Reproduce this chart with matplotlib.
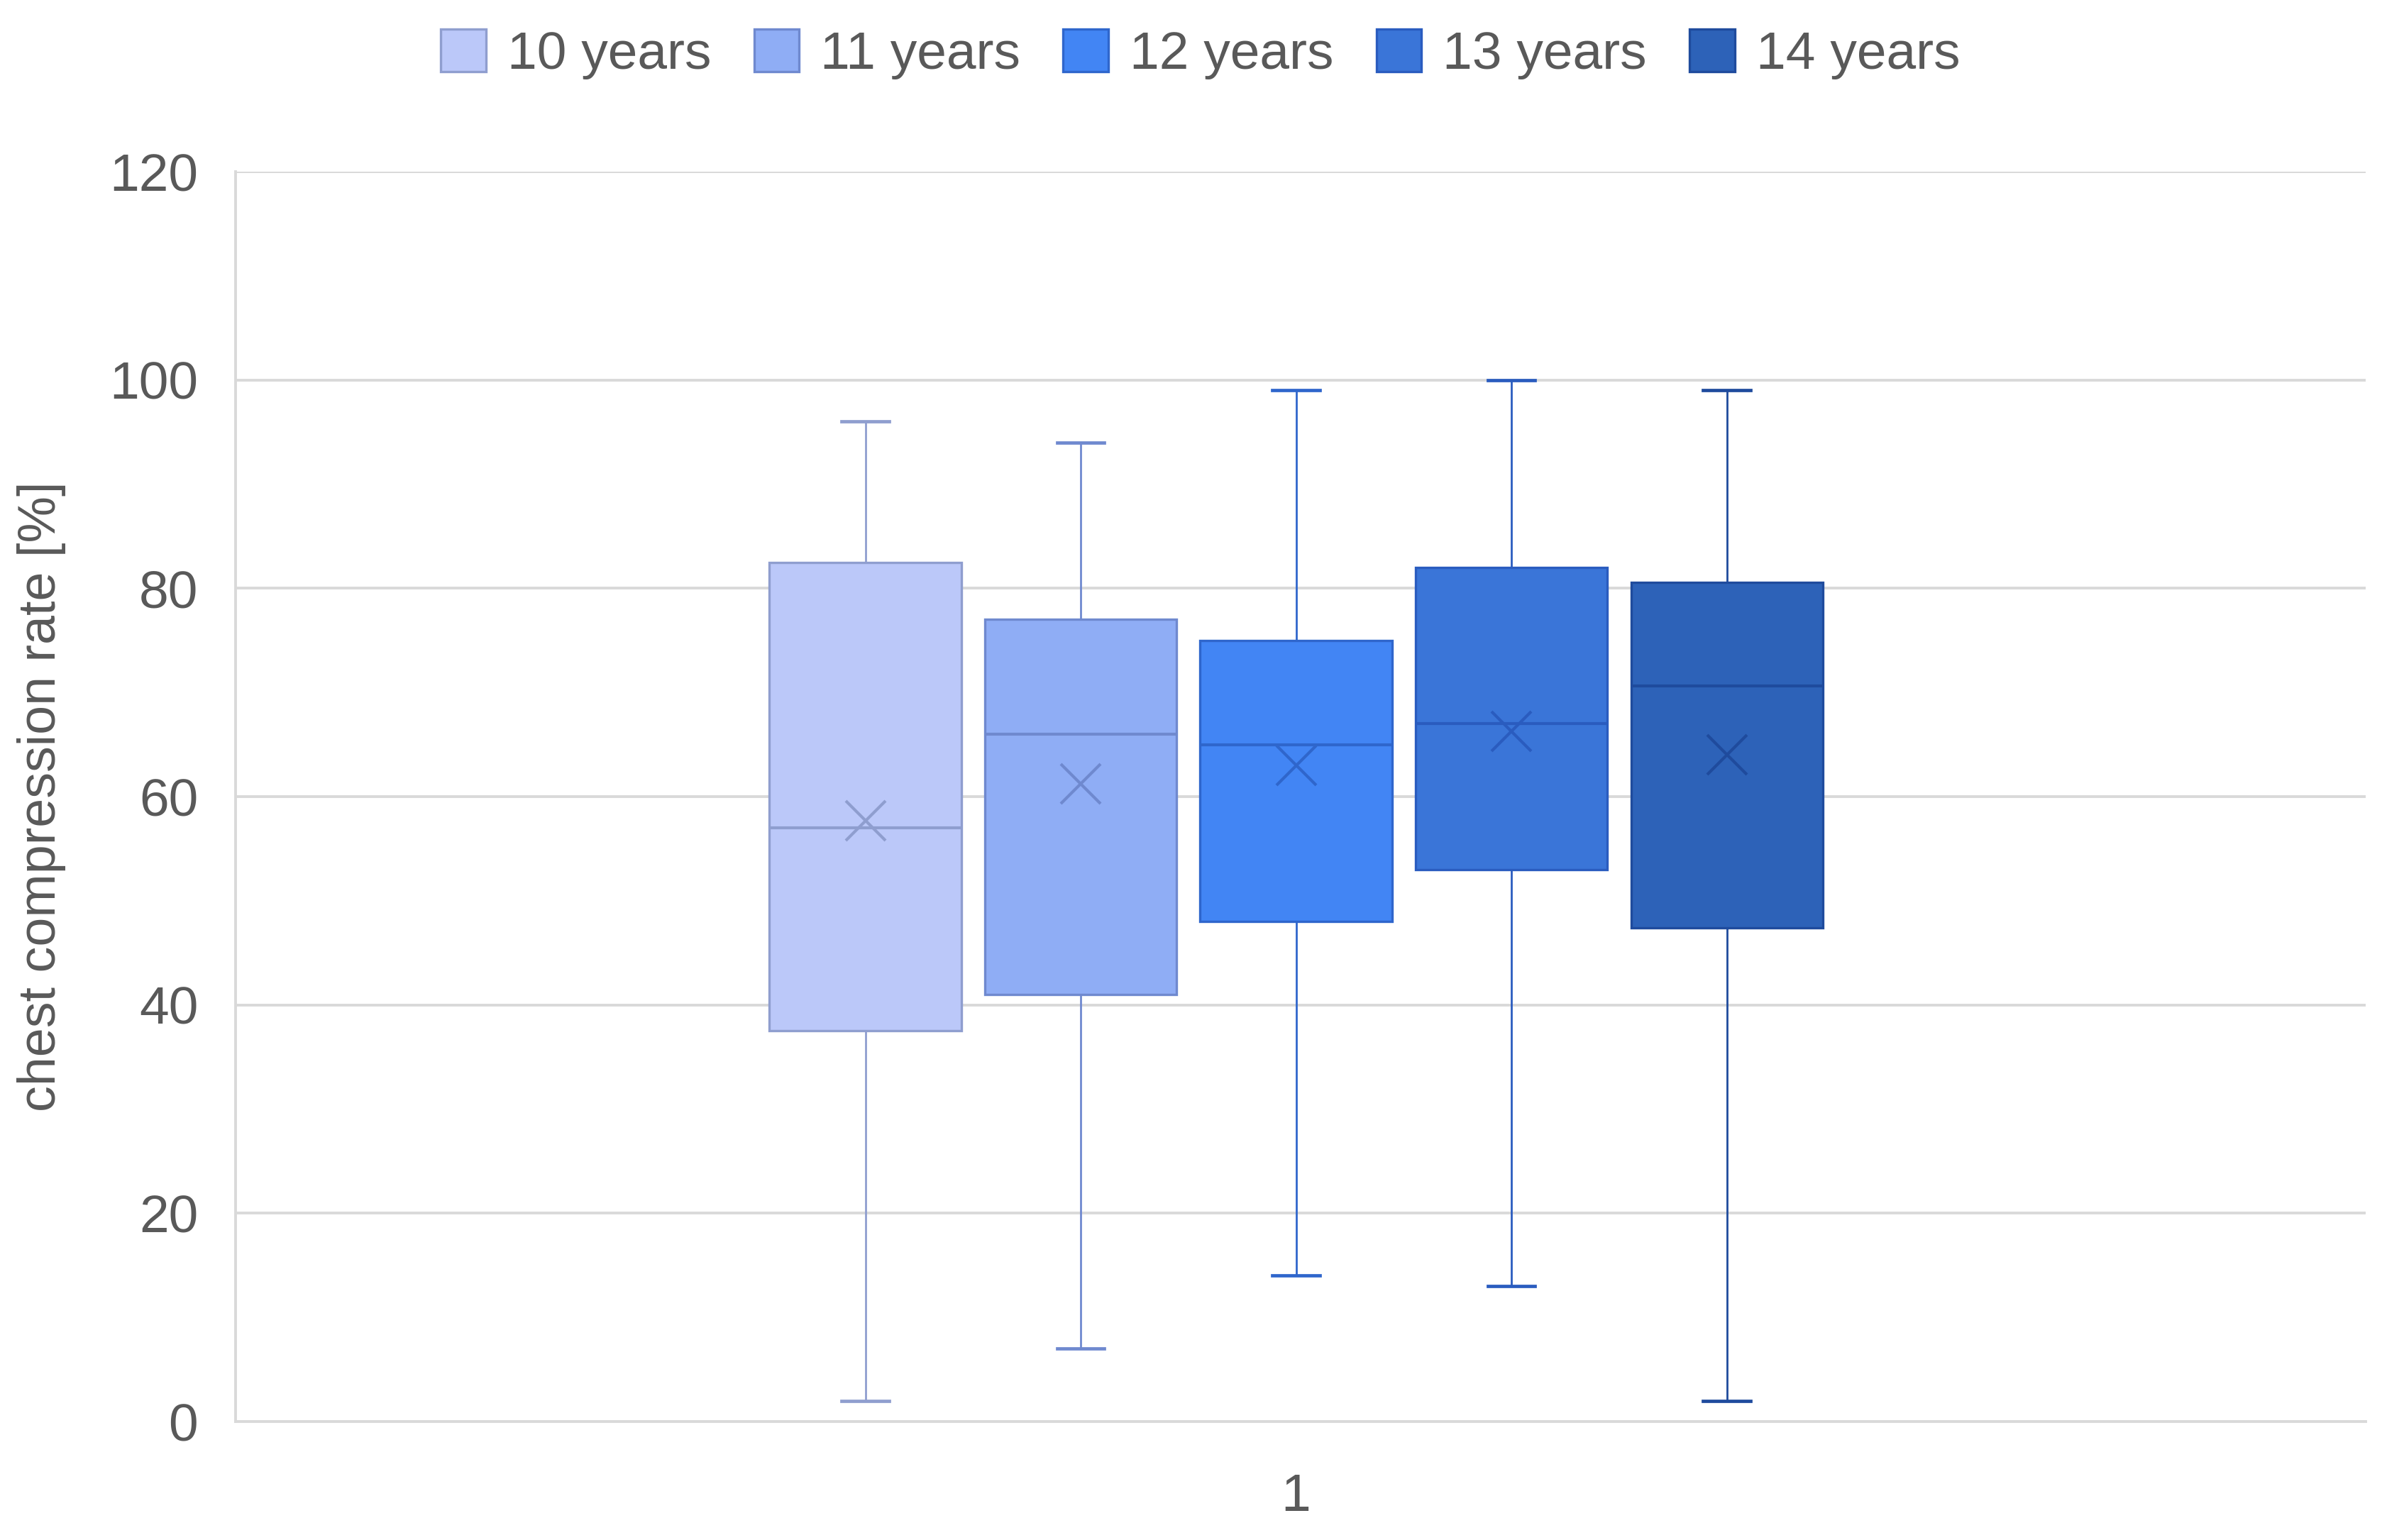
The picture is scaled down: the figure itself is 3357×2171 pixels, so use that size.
import matplotlib.pyplot as plt
from matplotlib.patches import Patch

plt.rcParams['font.family'] = ['Liberation Sans', 'DejaVu Sans']

groups = ['10 years', '11 years', '12 years', '13 years', '14 years']
whislo = [2, 7, 14, 13, 2]
q1 = [37.5, 41, 48, 53, 47.4]
med = [57, 66, 65, 67, 70.6]
mean = [57.7, 61.2, 63, 66.3, 64]
q3 = [82.5, 77, 75, 82, 80.6]
whishi = [96, 94, 99, 100, 99]

fills = ['#bbc8f9', '#8fadf5', '#4285f4', '#3a75d8', '#2d62b8']
edges = ['#8f9ecf', '#6f89cf', '#2f66cc', '#2a5cbf', '#1f4b9d']
text_col = '#595959'
grid_col = '#d9d9d9'

stats = []
for i in range(len(groups)):
    stats.append(dict(label=groups[i], whislo=whislo[i], q1=q1[i], med=med[i],
                      mean=mean[i], q3=q3[i], whishi=whishi[i], fliers=[]))

fig = plt.figure(figsize=(3357/200, 2171/200), dpi=200)
ax = fig.add_axes([0.0989, 0.0769, 0.8942, 0.8116])

pos = [-2, -1, 0, 1, 2]
bp = ax.bxp(stats, positions=pos, widths=0.89, patch_artist=True, showmeans=True,
            capwidths=0.22, manage_ticks=False)

for i in range(len(groups)):
    bp['boxes'][i].set(facecolor=fills[i], edgecolor=edges[i], linewidth=1.2)
    bp['medians'][i].set(color=edges[i], linewidth=1.5)
    bp['means'][i].set(marker='x', markersize=20, markeredgecolor=edges[i],
                       markeredgewidth=1.5, markerfacecolor='none')
    for w in bp['whiskers'][2*i:2*i+2]:
        w.set(color=edges[i], linewidth=1.0)
    for c in bp['caps'][2*i:2*i+2]:
        c.set(color=edges[i], linewidth=1.7)

ax.set_xlim(-4.924, 4.966)
ax.set_ylim(0, 120)
ax.set_yticks(range(0, 121, 20))
ax.set_xticks([0])
ax.set_xticklabels(['1'])
ax.yaxis.grid(True, color=grid_col, linewidth=1.4)
ax.set_axisbelow(True)
for s in ['top', 'right']:
    ax.spines[s].set_visible(False)
ax.spines['left'].set_color(grid_col)
ax.spines['bottom'].set_color(grid_col)
ax.spines['left'].set_linewidth(1.4)
ax.spines['bottom'].set_linewidth(1.4)
ax.tick_params(length=0, labelsize=27, colors=text_col, pad=19)
ax.tick_params(axis='x', pad=26)
ax.set_ylabel('chest compression rate [%]', fontsize=26.5, color=text_col, labelpad=22)

handles = [Patch(facecolor=fills[i], edgecolor=edges[i], linewidth=1.2, label=groups[i])
           for i in range(len(groups))]
fig.legend(handles=handles, loc='upper center', bbox_to_anchor=(0.504, 1.012), ncol=5,
           frameon=False, fontsize=27, labelcolor=text_col, handlelength=0.85,
           handleheight=0.85, handletextpad=0.4, columnspacing=0.8)

fig.savefig('out.png', dpi=200, facecolor='white')
